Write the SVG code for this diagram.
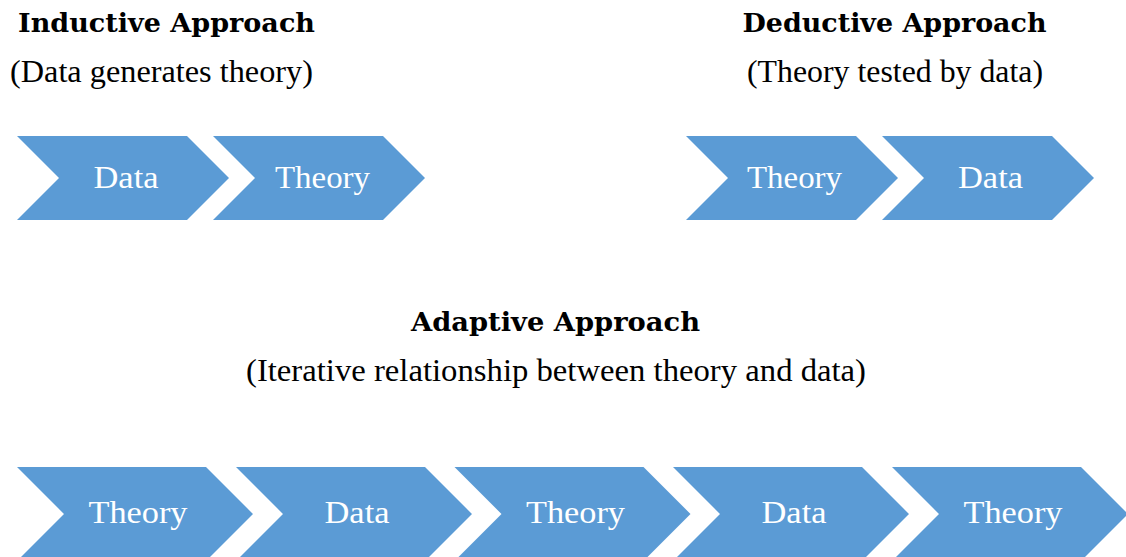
<svg xmlns="http://www.w3.org/2000/svg" width="1126" height="557" viewBox="0 0 1126 557">
  <style>
    .title { font-family: "DejaVu Serif", "Liberation Serif", serif; font-weight: bold; font-size: 26px; fill: #000; text-anchor: middle; }
    .sub { font-family: "Liberation Serif", "DejaVu Serif", serif; font-size: 32px; fill: #000; text-anchor: middle; }
    .chev { fill: #5B9BD5; }
    .lbl { font-family: "Liberation Serif", "DejaVu Serif", serif; font-size: 32px; fill: #fff; text-anchor: middle; }
  </style>
  <defs>
    <!-- small chevron: 212 x 84, point depth 42 -->
    <polygon id="chevS" points="0,0 170,0 212,42 170,84 0,84 42,42"/>
    <!-- large chevron: 236 x 94, point depth 47 -->
    <polygon id="chevL" points="0,0 189,0 236,47 189,94 0,94 47,47"/>
  </defs>
  <rect width="1126" height="557" fill="#fff"/>

  <!-- Headings -->
  <g id="inductive-heading">
    <text class="title" x="166.5" y="32" textLength="297" lengthAdjust="spacingAndGlyphs">Inductive Approach</text>
    <text class="sub" x="161.5" y="82" textLength="303" lengthAdjust="spacingAndGlyphs">(Data generates theory)</text>
  </g>
  <g id="deductive-heading">
    <text class="title" x="894.5" y="32" textLength="304" lengthAdjust="spacingAndGlyphs">Deductive Approach</text>
    <text class="sub" x="895" y="82" textLength="296" lengthAdjust="spacingAndGlyphs">(Theory tested by data)</text>
  </g>
  <g id="adaptive-heading">
    <text class="title" x="555.5" y="331" textLength="289" lengthAdjust="spacingAndGlyphs">Adaptive Approach</text>
    <text class="sub" x="556" y="381" textLength="620" lengthAdjust="spacingAndGlyphs">(Iterative relationship between theory and data)</text>
  </g>

  <!-- Inductive row -->
  <g id="ind-data">
    <use href="#chevS" class="chev" x="17" y="136"/>
    <text class="lbl" x="126" y="188" textLength="65" lengthAdjust="spacingAndGlyphs">Data</text>
  </g>
  <g id="ind-theory">
    <use href="#chevS" class="chev" x="213" y="136"/>
    <text class="lbl" x="322.5" y="188" textLength="95" lengthAdjust="spacingAndGlyphs">Theory</text>
  </g>

  <!-- Deductive row -->
  <g id="ded-theory">
    <use href="#chevS" class="chev" x="686" y="136"/>
    <text class="lbl" x="794.5" y="188" textLength="95" lengthAdjust="spacingAndGlyphs">Theory</text>
  </g>
  <g id="ded-data">
    <use href="#chevS" class="chev" x="882" y="136"/>
    <text class="lbl" x="990.5" y="188" textLength="65" lengthAdjust="spacingAndGlyphs">Data</text>
  </g>

  <!-- Adaptive row -->
  <g id="ada-theory-1">
    <use href="#chevL" class="chev" x="17" y="467"/>
    <text class="lbl" x="138" y="523" textLength="99" lengthAdjust="spacingAndGlyphs">Theory</text>
  </g>
  <g id="ada-data-1">
    <use href="#chevL" class="chev" x="236" y="467"/>
    <text class="lbl" x="357" y="523" textLength="65" lengthAdjust="spacingAndGlyphs">Data</text>
  </g>
  <g id="ada-theory-2">
    <use href="#chevL" class="chev" x="454.5" y="467"/>
    <text class="lbl" x="575.5" y="523" textLength="99" lengthAdjust="spacingAndGlyphs">Theory</text>
  </g>
  <g id="ada-data-2">
    <use href="#chevL" class="chev" x="673" y="467"/>
    <text class="lbl" x="794" y="523" textLength="65" lengthAdjust="spacingAndGlyphs">Data</text>
  </g>
  <g id="ada-theory-3">
    <use href="#chevL" class="chev" x="892" y="467"/>
    <text class="lbl" x="1013" y="523" textLength="99" lengthAdjust="spacingAndGlyphs">Theory</text>
  </g>

  <!-- no connectors: the chevrons abut directly -->
  <g id="connectors"/>
</svg>
